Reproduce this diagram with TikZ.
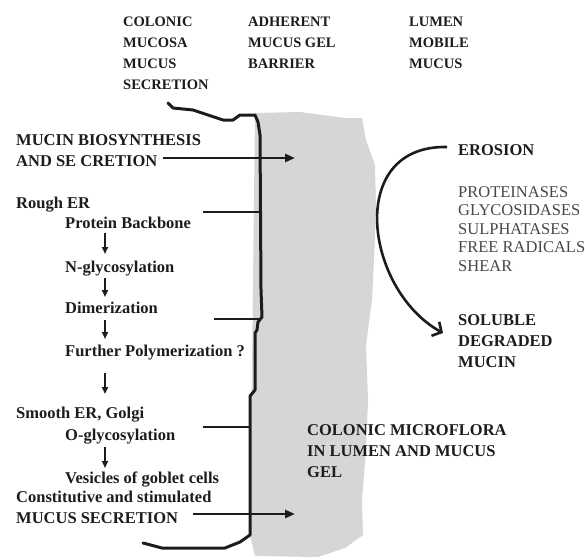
\documentclass[tikz,border=0pt]{standalone}
\usepackage{fontspec}
\setmainfont{Liberation Serif}
\usetikzlibrary{arrows.meta}
\definecolor{gelgrey}{RGB}{214,214,214}
\definecolor{ink}{RGB}{28,28,28}
\tikzset{
	head/.style={font=\fontsize{14.5}{21}\selectfont\bfseries, align=left, anchor=base west, inner sep=0pt, text=ink},
	lbl/.style={font=\fontsize{16.5}{21}\selectfont\bfseries, align=left, anchor=base west, inner sep=0pt, text=ink},
	agent/.style={font=\fontsize{16.5}{18.5}\selectfont, align=left, anchor=base west, inner sep=0pt, text=black!72},
	wall/.style={line width=3pt, ink, line join=round, line cap=round},
	tick/.style={line width=2.6pt, ink},
	flow/.style={line width=2.6pt, ink, -{Triangle[length=10pt,width=8pt]}},
	down/.style={line width=2pt, ink, -{Triangle[length=7pt,width=6pt]}},
	turn/.style={line width=2.6pt, ink, -{Straight Barb[length=7pt,width=16pt]}}
}
\begin{document}
\begin{tikzpicture}[x=1pt, y=-1pt]
	\useasboundingbox (0,0) rectangle (585,559);
	
	% mucus gel layer
	\fill[gelgrey] (255,113) -- (300,112) -- (345,118) -- (362,118) -- (366,140) -- (375,165) -- (376,210) -- (374,260) -- (372,300) -- (366,345) -- (368,400) -- (366,450) -- (362,500) -- (363,535) -- (345,548) -- (318,557) -- (255,556) -- (250,535) -- cycle;
	
	% mucosa surface
	\draw[wall] (168,103) -- (173,108) -- (193,110) -- (202,113) -- (223,120) -- (233,120) -- (240,115) -- (255,115) -- (258,122) -- (260,135) -- (261,290) -- (262,317) -- (258,322) -- (257,330) -- (255,333) -- (255,390) -- (250,396) -- (250,535) -- (240,542) -- (225,548) -- (162,548) -- (143,543);
	
	% multi-line nodes sit on their last line
	\node[head] at (123,90) (mucosa) {COLONIC\\MUCOSA\\MUCUS\\SECRETION};
	\node[head] at (248,69) (gel) {ADHERENT\\MUCUS GEL\\BARRIER};
	\node[head] at (409,69) (lumen) {LUMEN\\MOBILE\\MUCUS};
	
	\node[lbl] at (16,166) (biosyn) {MUCIN BIOSYNTHESIS\\AND SE CRETION};
	\node[lbl] at (16,208) (rough) {Rough ER};
	\node[lbl] at (65,228) (backbone) {Protein Backbone};
	\node[lbl] at (65,272) (nglyc) {N-glycosylation};
	\node[lbl] at (65,313) (dimer) {Dimerization};
	\node[lbl] at (65,356) (polymer) {Further Polymerization ?};
	\node[lbl] at (16,418) (smooth) {Smooth ER, Golgi};
	\node[lbl] at (65,440) (oglyc) {O-glycosylation};
	\node[lbl] at (65,483) (vesicles) {Vesicles of goblet cells};
	\node[lbl] at (16,523) (secretion) {Constitutive and stimulated\\MUCUS SECRETION};
	
	\node[lbl] at (458,155) (erosion) {EROSION};
	\node[agent] at (458,271) (agents) {PROTEINASES\\GLYCOSIDASES\\SULPHATASES\\FREE RADICALS\\SHEAR};
	\node[lbl] at (458,367) (soluble) {SOLUBLE\\DEGRADED\\MUCIN};
	\node[lbl] at (307,477) (flora) {COLONIC MICROFLORA\\IN LUMEN AND MUCUS\\GEL};
	
	% connector ends
	\coordinate (biosynA) at (163,158);
	\coordinate (biosynB) at (295,158);
	\coordinate (secretA) at (193,514);
	\coordinate (secretB) at (295,514);
	\coordinate (tickA1) at (203,212);
	\coordinate (tickB1) at (261,212);
	\coordinate (tickA2) at (214,319);
	\coordinate (tickB2) at (260,319);
	\coordinate (tickA3) at (203,427);
	\coordinate (tickB3) at (250,427);
	\coordinate (d1a) at (105,233);
	\coordinate (d1b) at (105,254);
	\coordinate (d2a) at (105,278);
	\coordinate (d2b) at (105,297);
	\coordinate (d3a) at (105,320);
	\coordinate (d3b) at (105,339);
	\coordinate (d4a) at (105,373);
	\coordinate (d4b) at (105,394);
	\coordinate (d5a) at (105,447);
	\coordinate (d5b) at (105,468);
	\coordinate (erodeA) at (447,147);
	\coordinate (erodeB) at (443,333);
	
	\draw[flow] (biosynA) -- (biosynB);
	\draw[flow] (secretA) -- (secretB);
	
	\draw[tick] (tickA1) -- (tickB1);
	\draw[tick] (tickA2) -- (tickB2);
	\draw[tick] (tickA3) -- (tickB3);
	
	\draw[down] (d1a) -- (d1b);
	\draw[down] (d2a) -- (d2b);
	\draw[down] (d3a) -- (d3b);
	\draw[down] (d4a) -- (d4b);
	\draw[down] (d5a) -- (d5b);
	
	\draw[turn] (erodeA) .. controls (345,145) and (365,290) .. (erodeB);
	
\end{tikzpicture}
\end{document}
